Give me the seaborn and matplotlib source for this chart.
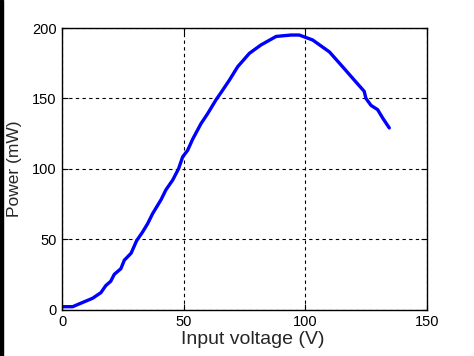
import matplotlib
matplotlib.use("Agg")
import matplotlib.pyplot as plt
import seaborn as sns
import pandas as pd
from matplotlib.patches import Rectangle

voltage = [0, 4.4, 7.1, 12.6, 16, 18, 20, 21.5, 24.2, 25.6, 28.4, 30.7, 33.1, 35.2, 37.2,
           40.7, 42.7, 45.5, 47.9, 49.6, 51.6, 53.7, 57.1, 59.8, 63.3, 65.3, 68.8, 72.2,
           77, 81.8, 88, 94.1, 97.5, 103, 109.9, 115.3, 120.1, 124.2, 124.9, 127, 129.7,
           131.8, 134.5]
power = [2, 2, 4, 8, 12, 17, 20, 25, 29, 35, 40, 49, 55, 61, 68,
         78, 85, 92, 100, 108.5, 113, 121, 132, 139, 149, 154, 163, 172.5,
         182, 188, 194, 195, 195, 191.5, 183, 172.5, 163, 155, 150, 145, 142,
         136, 129]
xticks = [0, 50, 100, 150]
yticks = [0, 50, 100, 150, 200]

sns.set_style("white")
plt.rcParams['font.family'] = ['Liberation Sans', 'DejaVu Sans']

df = pd.DataFrame({"V": voltage, "P": power})
fig = plt.figure(figsize=(4.74, 3.56), dpi=100)
ax = fig.add_axes([62/474, 1-309.5/356, (427-62)/474, (309.5-28)/356])
sns.lineplot(data=df, x="V", y="P", sort=False, color="#0000ff", linewidth=2.4, ax=ax)
ax.set_xlim(0, 150)
ax.set_ylim(0, 200)
ax.set_xticks(xticks)
ax.set_yticks(yticks)
ax.grid(True, color="black", linestyle=(0, (3, 3)), linewidth=0.8)
for s in ax.spines.values():
    s.set_color("black")
    s.set_linewidth(1.0)
ax.tick_params(direction="in", length=4, width=0.8, labelsize=10.5, colors="black",
               top=True, right=True, bottom=True, left=True, pad=4)
ax.set_xlabel("Input voltage (V)", fontsize=14, labelpad=3)
ax.xaxis.set_label_coords(0.523, -0.075)
ax.set_ylabel("Power (mW)", fontsize=12.5, labelpad=7)
fig.add_artist(Rectangle((0, 0), 3/474, 1, transform=fig.transFigure, color="black"))
fig.savefig("out.png", dpi=100, facecolor="white")
